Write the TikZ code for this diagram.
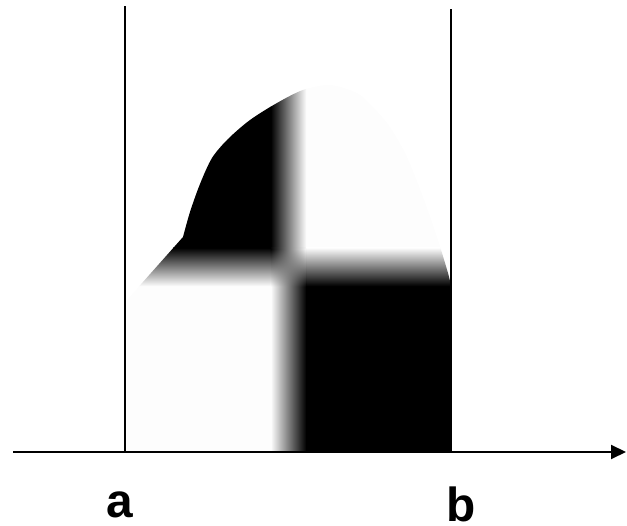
\documentclass[tikz,border=0pt]{standalone}
\usepackage{fontspec}
\setmainfont{Liberation Sans}
\usetikzlibrary{arrows.meta}
\definecolor{offwhite}{gray}{0.992}
\begin{document}
\begin{tikzpicture}[x=1bp,y=1bp,
  axisline/.style={line width=2bp,black},
  boundline/.style={line width=2bp,black},
  lbl/.style={font=\fontsize{48}{48}\selectfont\bfseries, anchor=base, inner sep=0pt}]
\useasboundingbox (0,0) rectangle (627,526);
% blurred checkerboard clipped to the region under the curve
\begin{scope}
  \clip (127,74) -- (127,226) -- plot[smooth] coordinates {(183,289) (190,314) (200,342) (212,368) (228,387) (250,406) (277,423) (303,436) (330,441) (357,433) (373,419) (390,399) (407,369) (423,329) (437,289) (448,253)} -- (451,241) -- (451,74) -- cycle;
  \fill[offwhite] (124,70) rectangle (455,450);
  % solid corners
  \fill[black] (124,277.8) rectangle (271.2,450);
  \fill[black] (305.8,70) rectangle (455,240.2);
  % bands
  \shade[left color=black, right color=offwhite] (270.8,277.8) rectangle (306.2,450);
  \shade[left color=offwhite, right color=black] (270.8,70) rectangle (306.2,240.2);
  \shade[top color=black, bottom color=offwhite] (124,239.8) rectangle (271.2,278.2);
  \shade[top color=offwhite, bottom color=black] (305.8,239.8) rectangle (455,278.2);
  % centre: bilinear blend by thin strips
  \foreach \i [evaluate=\i as \yb using 240+\i,
               evaluate=\i as \pl using 100-100*(37.5-\i)/38,
               evaluate=\i as \pr using 100*(37.5-\i)/38] in {0,...,37} {
    \shade[left color=black!\pl!offwhite, right color=black!\pr!offwhite] (270.8,{\yb-0.2}) rectangle (306.2,{\yb+1.2});
  }
\end{scope}
% axes and bounds
\coordinate (axL) at (13,74);
\coordinate (axR) at (626,74);
\coordinate (aB) at (125,74);
\coordinate (aT) at (125,520);
\coordinate (bB) at (451,74);
\coordinate (bT) at (451,517);
\draw[boundline] (aB) -- (aT);
\draw[boundline] (bB) -- (bT);
\draw[axisline, -{Triangle[length=15bp,width=14bp]}] (axL) -- (axR);
\node[lbl] (la) at (120,8) {a};
\node[lbl] (lb) at (461,4) {b};
\end{tikzpicture}
\end{document}
